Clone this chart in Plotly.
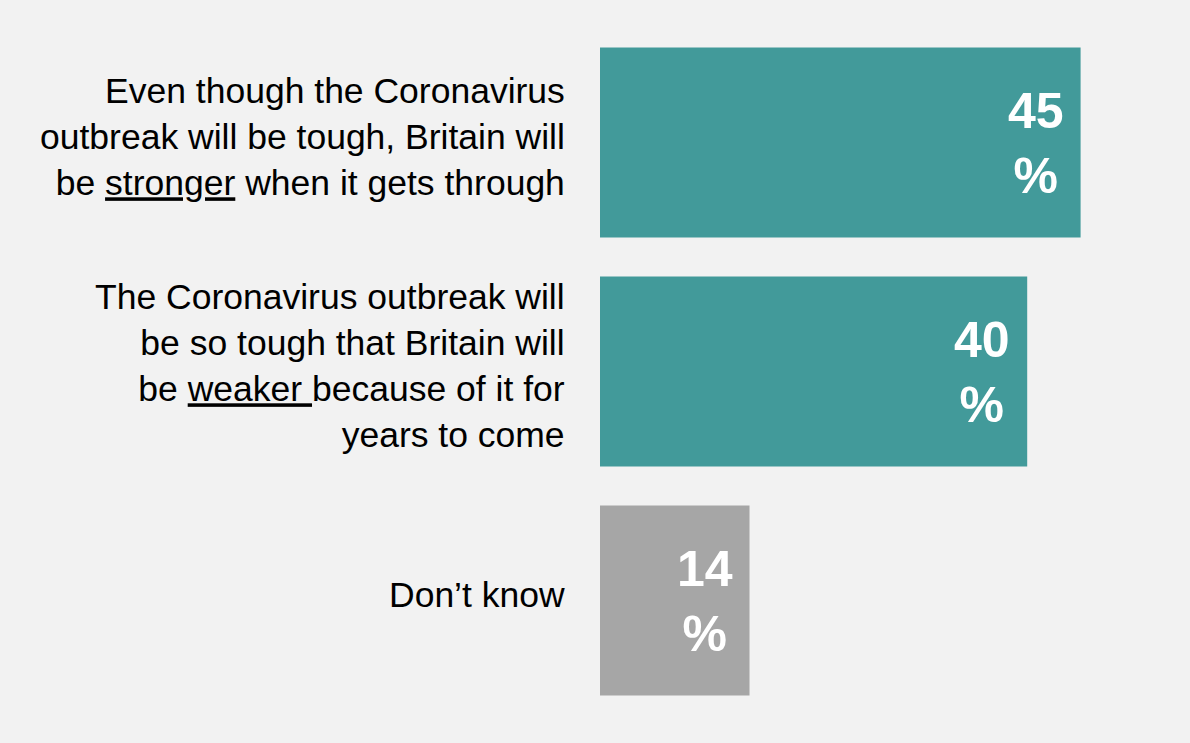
import plotly.graph_objects as go

categories = [
    "Even though the Coronavirus<br>outbreak will be tough, Britain will<br>be <u>stronger</u> when it gets through",
    "The Coronavirus outbreak will<br>be so tough that Britain will<br>be <u>weaker </u>because of it for<br>years to come",
    "Don’t know",
]
values = [45, 40, 14]
value_labels = ["45<br>%", "40<br>%", "14<br>%"]
colors = ["#429a9a", "#429a9a", "#a6a6a6"]

FONT = "Liberation Sans"

fig = go.Figure()
fig.add_trace(go.Bar(
    x=values, y=categories, orientation="h",
    marker=dict(color=colors, line=dict(width=0)),
    hoverinfo="skip",
))

for v, c, t in zip(values, categories, value_labels):
    fig.add_annotation(
        x=v, y=c, xref="x", yref="y", text=t, showarrow=False,
        xanchor="right", yanchor="middle", xshift=-15, yshift=-1, align="center",
        font=dict(family=FONT, size=50, color="white", weight="bold"),
    )
    fig.add_annotation(
        x=0, y=c, xref="paper", yref="y", text=c, showarrow=False,
        xanchor="right", yanchor="middle", xshift=-33, yshift=6, align="right",
        font=dict(family=FONT, size=35.5, color="#000000"),
    )

fig.update_layout(
    width=1190, height=743,
    paper_bgcolor="#f2f2f2", plot_bgcolor="#f2f2f2",
    margin=dict(l=600, r=56, t=28, b=28),
    bargap=0.17,
    showlegend=False,
    font=dict(family=FONT, color="#000000"),
    xaxis=dict(range=[0, 50], visible=False, fixedrange=True),
    yaxis=dict(autorange="reversed", visible=False, fixedrange=True),
)

fig.write_html(
    "out.html",
    config={"displayModeBar": False},
    post_script="document.body.style.margin='0';document.body.style.background='#f2f2f2';",
)
